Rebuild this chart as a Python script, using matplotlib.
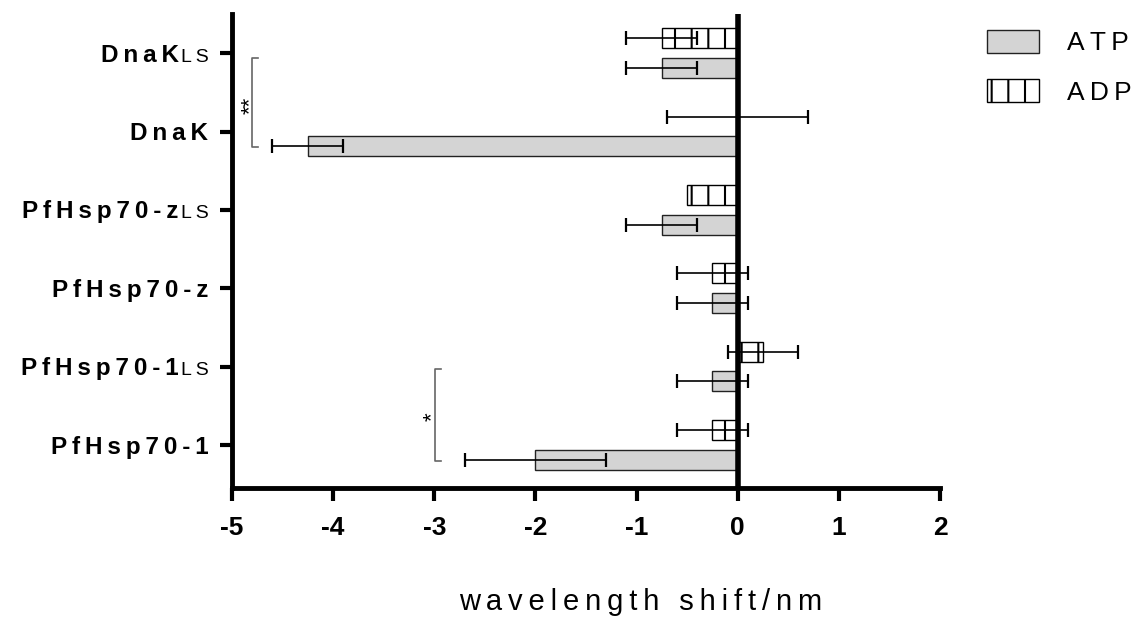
import matplotlib
matplotlib.use('Agg')
import matplotlib.pyplot as plt
import matplotlib.transforms as mtransforms
from matplotlib.patches import Patch
import numpy as np

plt.rcParams['font.family'] = ['Liberation Sans', 'DejaVu Sans']
plt.rcParams['hatch.linewidth'] = 1.5

# data (bottom to top)
names = ['PfHsp70-1', 'PfHsp70-1', 'PfHsp70-z', 'PfHsp70-z', 'DnaK', 'DnaK']
suffix = ['', 'LS', '', 'LS', '', 'LS']
atp = [-2.0, -0.25, -0.25, -0.75, -4.25, -0.75]
atp_err = [0.7, 0.35, 0.35, 0.35, 0.35, 0.35]
adp = [-0.25, 0.25, -0.25, -0.5, 0.0, -0.75]
adp_err = [0.35, 0.35, 0.35, 0.0, 0.7, 0.35]
xticks = [-5, -4, -3, -2, -1, 0, 1, 2]

def spaced(s, gap='\u2009'):
    return gap.join(s)  # wide letter spacing like the original

fig = plt.figure(figsize=(11.47, 6.19), dpi=100)
ax = fig.add_axes([0.2023, 0.2116, 0.6172, 0.7658])

y = np.arange(len(names))
h = 0.255
off = 0.19

ax.barh(y - off, atp, height=h, color='#d4d4d4', edgecolor='#222222', linewidth=1, zorder=2)
ax.errorbar(atp, y - off, xerr=atp_err, fmt='none', ecolor='black', elinewidth=1.2,
            capsize=5, capthick=1.6, zorder=3)
ax.barh(y + off, adp, height=h, color='white', edgecolor='black', hatch='|', linewidth=1, zorder=2)
for i in range(len(adp)):
    if adp_err[i] > 0:
        ax.errorbar(adp[i], y[i] + off, xerr=adp_err[i], fmt='none', ecolor='black',
                    elinewidth=1.2, capsize=5, capthick=1.6, zorder=3)

ax.axvline(0, color='black', lw=4, zorder=4)

ax.set_xlim(-5, 2)
ax.set_ylim(-0.55, 5.5)
ax.set_xticks(xticks)
ax.set_xticklabels([str(v) for v in xticks], fontsize=19, fontweight='bold')
ax.set_yticks(y)
ax.set_yticklabels([])
ax.tick_params(axis='both', width=3, length=9)
ax.tick_params(axis='x', pad=11)
for s in ['top', 'right']:
    ax.spines[s].set_visible(False)
for s in ['left', 'bottom']:
    ax.spines[s].set_linewidth(3.5)

# y labels with small "LS" suffix
renderer = fig.canvas.get_renderer()
base = mtransforms.blended_transform_factory(ax.transAxes, ax.transData)
for i in range(len(names)):
    xoff = -17
    if suffix[i]:
        tr = mtransforms.offset_copy(base, fig=fig, x=xoff, y=-6.2, units='points')
        t = ax.text(0, y[i], spaced(suffix[i]), transform=tr, ha='right',
                    va='baseline', fontsize=14)
        w = t.get_window_extent(renderer).width * 72 / fig.dpi
        xoff = xoff - w - 1.5
    tr = mtransforms.offset_copy(base, fig=fig, x=xoff, y=-6.2, units='points')
    ax.text(0, y[i], spaced(names[i]), transform=tr, ha='right', va='baseline',
            fontsize=17.5, fontweight='bold')

# significance brackets
def bracket(x, y0, y1, label, sx, sy):
    ax.plot([x + 0.06, x, x, x + 0.06], [y0, y0, y1, y1], color='#666666', lw=1.2,
            clip_on=False, zorder=1)
    ax.text(sx, sy, label, rotation=90, ha='center', va='center', fontsize=16)

bracket(-4.8, 4.94, 3.8, '**', -4.82, 4.34)
bracket(-2.99, 0.97, -0.21, '*', -3.02, 0.36)

fig.text(641 / 1147, 1 - 610 / 619, spaced('wavelength shift/nm'), ha='center',
         va='baseline', fontsize=21)

handles = [Patch(facecolor='#d4d4d4', edgecolor='#222222', linewidth=1),
           Patch(facecolor='white', edgecolor='black', hatch='|', linewidth=1)]
ax.legend(handles, [spaced('ATP'), spaced('ADP')], loc='upper left',
          bbox_to_anchor=(987 / 1147, 1 - 30 / 619), bbox_transform=fig.transFigure,
          frameon=False, fontsize=19, handlelength=1.97, handleheight=0.95,
          handletextpad=1.06, labelspacing=0.9, borderpad=0, borderaxespad=0)

fig.savefig('out.png', dpi=100)
